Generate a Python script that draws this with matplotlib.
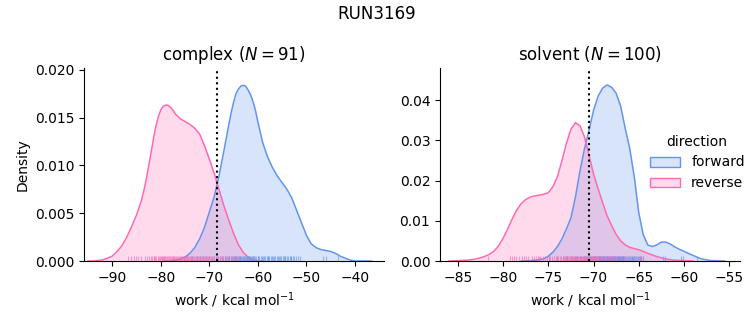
import matplotlib.pyplot as plt
from matplotlib.patches import Patch

FWD = "#6495ED"
REV = "#FF69B4"

# --- complex: densidad ---
cx_rev = [-95, -94, -92, -91, -90, -89, -88, -87, -86, -85,
          -84, -83.5, -83, -82.5, -82, -81.5, -81, -80.5, -80, -79.5,
          -79, -78.5, -78, -77.5, -77, -76, -75, -74, -73, -72,
          -71, -70, -69, -68, -67, -66, -65, -64, -63, -62,
          -61, -60, -59]
cy_rev = [0.0, 0.0, 0.0001, 0.0003, 0.0005, 0.0010, 0.0016, 0.0025, 0.0036, 0.0048,
          0.0063, 0.0073, 0.0085, 0.0099, 0.0113, 0.0128, 0.0141, 0.0151, 0.0158, 0.0162,
          0.0163, 0.0163, 0.0161, 0.0158, 0.0154, 0.0149, 0.0146, 0.0143, 0.0139, 0.0133,
          0.0121, 0.0107, 0.0092, 0.0075, 0.0058, 0.0043, 0.0029, 0.0017, 0.0009, 0.0004,
          0.0001, 0.0, 0.0]

cx_fwd = [-79, -78, -76, -75, -74, -73, -72, -71, -70, -69,
          -68, -67, -66, -65.5, -65, -64.5, -64, -63.5, -63, -62.5,
          -62, -61.5, -61, -60.5, -60, -59, -58, -57, -56, -55,
          -54, -53, -52, -51, -50, -49, -48, -47, -46, -45,
          -44, -43, -42, -41, -40, -38, -36.5]
cy_fwd = [0.0, 0.0, 0.0002, 0.0004, 0.0008, 0.0014, 0.0023, 0.0035, 0.0051, 0.0067,
          0.0089, 0.0115, 0.0142, 0.0155, 0.0166, 0.0175, 0.0180, 0.0183, 0.0184, 0.0183,
          0.0179, 0.0174, 0.0167, 0.0158, 0.0146, 0.0124, 0.0109, 0.0098, 0.0089, 0.0082,
          0.0075, 0.0066, 0.0053, 0.0040, 0.0027, 0.0018, 0.0014, 0.0012, 0.0011, 0.0010,
          0.0008, 0.0005, 0.0003, 0.0001, 0.0, 0.0, 0.0]

# --- solvent ---
sx_rev = [-86, -85, -84, -83, -82.5, -82, -81.5, -81, -80.5, -80, -79.5, -79, -78.5,
          -78, -77.5, -77, -76.5, -76, -75.5, -75, -74.5, -74, -73.5, -73, -72.5,
          -72, -71.5, -71, -70.5, -70, -69.5, -69, -68.5, -68, -67.5, -67, -66.5,
          -66, -65.5, -65, -64.5, -64, -63, -62, -61, -60, -59]
sy_rev = [0.0, 0.0001, 0.0002, 0.0005, 0.0008, 0.0012, 0.0017, 0.0025, 0.0038, 0.0057,
          0.0080, 0.0105, 0.0127, 0.0143, 0.0153, 0.0159, 0.0162, 0.0164, 0.0166,
          0.0170, 0.0185, 0.0210, 0.0250, 0.0293, 0.0328, 0.0344, 0.0336, 0.0308,
          0.0262, 0.0216, 0.0180, 0.0145, 0.0112, 0.0088, 0.0066, 0.0050, 0.0040,
          0.0034, 0.0031, 0.0028, 0.0024, 0.0019, 0.0011, 0.0005, 0.0002, 0.0001, 0.0]

sx_fwd = [-78, -77, -76, -75.5, -75, -74.5, -74, -73.5, -73, -72.5, -72, -71.5, -71,
          -70.5, -70, -69.5, -69, -68.5, -68, -67.5, -67, -66.5, -66, -65.5, -65,
          -64.5, -64, -63.5, -63, -62.5, -62, -61.5, -61, -60.5, -60, -59.5, -59,
          -58.5, -58, -57, -56, -55.5]
sy_fwd = [0.0, 0.0001, 0.0003, 0.0006, 0.0012, 0.0022, 0.0036, 0.0055, 0.0080, 0.0108,
          0.0160, 0.0225, 0.0280, 0.0326, 0.0375, 0.0410, 0.0430, 0.0438, 0.0432,
          0.0417, 0.0385, 0.0330, 0.0280, 0.0210, 0.0120, 0.0065, 0.0040, 0.0036,
          0.0040, 0.0047, 0.0047, 0.0042, 0.0035, 0.0029, 0.0024, 0.0019, 0.0014,
          0.0009, 0.0005, 0.0001, 0.0, 0.0]

# --- rug (muestras, aproximadas) ---
rug_c_rev = [-86.8, -86.2, -85.6, -85.1, -84.6, -84.0, -83.3, -82.8, -82.4, -82.0,
             -81.7, -81.4, -81.1, -80.9, -80.6, -80.4, -80.2, -80.0, -79.8, -79.6,
             -79.4, -79.3, -79.1, -78.9, -78.7, -78.5, -78.3, -78.1, -77.9, -77.7,
             -77.5, -77.3, -77.1, -76.9, -76.7, -76.5, -76.3, -76.1, -75.9, -75.7,
             -75.5, -75.3, -75.1, -74.9, -74.7, -74.5, -74.3, -74.1, -73.9, -73.7,
             -73.5, -73.3, -73.1, -72.9, -72.7, -72.5, -72.3, -72.1, -71.9, -71.7,
             -71.5, -71.3, -71.1, -70.9, -70.7, -70.5, -70.3, -70.1, -69.9, -69.6,
             -69.3, -69.0, -68.7, -68.4, -68.1, -67.8, -67.5, -67.2, -66.8, -66.4,
             -66.0, -65.6, -65.2, -64.8, -64.4, -63.9, -81.3, -79.7, -77.4, -75.2,
             -73.8]
rug_c_fwd = [-75.8, -74.6, -73.5, -72.6, -71.9, -71.2, -70.6, -70.0, -69.5, -69.0,
             -68.6, -68.2, -67.8, -67.4, -67.1, -66.8, -66.5, -66.2, -65.9, -65.6,
             -65.3, -65.1, -64.8, -64.6, -64.4, -64.2, -64.0, -63.8, -63.6, -63.4,
             -63.2, -63.0, -62.8, -62.6, -62.4, -62.2, -62.0, -61.8, -61.6, -61.4,
             -61.2, -61.0, -60.8, -60.6, -60.3, -60.0, -59.7, -59.4, -59.1, -58.8,
             -58.5, -58.2, -57.9, -57.6, -57.3, -57.0, -56.7, -56.4, -56.1, -55.8,
             -55.5, -55.2, -54.9, -54.6, -54.3, -54.0, -53.7, -53.4, -53.1, -52.8,
             -52.5, -52.2, -51.8, -51.4, -46.6, -45.9, -43.4, -66.0, -64.9, -63.7,
             -62.9, -61.9, -60.9, -59.9, -58.9, -57.8, -56.8, -55.7, -54.5, -53.2,
             -62.3]
rug_s_rev = [-81.7, -79.3, -79.0, -78.6, -78.2, -77.7, -77.3, -76.8, -76.4, -76.0,
             -75.6, -75.2, -74.8, -74.4, -74.0, -73.7, -73.4, -73.1, -72.9, -72.7,
             -72.5, -72.3, -72.1, -71.9, -71.7, -71.5, -71.3, -71.1, -70.9, -70.7,
             -70.5, -70.3, -70.1, -69.9, -69.7, -69.5, -69.3, -69.1, -68.9, -68.6,
             -68.3, -68.0, -67.7, -67.4, -67.0, -66.6, -66.1, -65.5, -64.9, -64.5,
             -78.8, -77.5, -76.2, -74.6, -73.9, -73.3, -72.8, -72.4, -72.0, -71.6,
             -71.2, -70.8, -70.4, -70.0, -69.6, -69.2, -68.8, -68.2, -67.5, -66.8,
             -73.0, -72.6, -72.2, -71.8, -71.4, -71.0, -70.6, -70.2, -69.8, -69.4,
             -75.9, -74.2, -73.6, -72.9, -72.35, -71.85, -71.35, -70.85, -70.35, -69.85,
             -77.9, -76.6, -75.4, -74.9, -73.2, -72.15, -71.05, -69.05, -68.45, -67.9]
rug_s_fwd = [-74.9, -74.0, -73.4, -72.9, -72.5, -72.1, -71.8, -71.5, -71.2, -70.9,
             -70.7, -70.5, -70.3, -70.1, -69.9, -69.7, -69.55, -69.4, -69.25, -69.1,
             -68.95, -68.8, -68.65, -68.5, -68.35, -68.2, -68.05, -67.9, -67.75, -67.6,
             -67.45, -67.3, -67.15, -67.0, -66.85, -66.7, -66.5, -66.3, -66.1, -65.9,
             -65.7, -65.5, -65.3, -65.1, -64.9, -64.7, -64.5, -62.3, -62.1, -60.3,
             -60.1, -58.6, -71.35, -71.05, -70.8, -70.6, -70.4, -70.2, -70.0, -69.8,
             -69.6, -69.45, -69.3, -69.15, -69.0, -68.85, -68.7, -68.55, -68.4, -68.25,
             -68.1, -67.95, -67.8, -67.65, -67.5, -67.35, -67.2, -67.05, -66.9, -66.75,
             -66.6, -66.4, -66.2, -66.0, -65.8, -65.6, -65.4, -65.2, -65.0, -64.8,
             -69.5, -69.2, -68.9, -68.6, -68.3, -68.0, -67.7, -67.4, -67.1, -66.8]

paneles = [
    ("complex", 91, cx_fwd, cy_fwd, cx_rev, cy_rev, rug_c_fwd, rug_c_rev, -68.4,
     (-95.8, -34.0), (0, 0.0202), [-90, -80, -70, -60, -50, -40],
     [0.0, 0.005, 0.010, 0.015, 0.020]),
    ("solvent", 100, sx_fwd, sy_fwd, sx_rev, sy_rev, rug_s_fwd, rug_s_rev, -70.5,
     (-87.0, -53.8), (0, 0.048), [-85, -80, -75, -70, -65, -60, -55],
     [0.0, 0.01, 0.02, 0.03, 0.04]),
]

fig = plt.figure(figsize=(7.53, 3.25), dpi=100)
posiciones = [[0.1116, 0.1969, 0.3984, 0.5938], [0.5843, 0.1969, 0.3984, 0.5938]]

for i, (fase, n, xf, yf, xr, yr, rf, rr, linea, xlim, ylim, xt, yt) in enumerate(paneles):
    ax = fig.add_axes(posiciones[i])
    ax.fill_between(xf, yf, color=FWD, alpha=0.25, linewidth=0)
    ax.plot(xf, yf, color=FWD, linewidth=1.1)
    ax.fill_between(xr, yr, color=REV, alpha=0.25, linewidth=0)
    ax.plot(xr, yr, color=REV, linewidth=1.1)
    trans = ax.get_xaxis_transform()
    ax.vlines(rf, 0, 0.025, transform=trans, color=FWD, alpha=0.6, linewidth=0.8)
    ax.vlines(rr, 0, 0.025, transform=trans, color=REV, alpha=0.6, linewidth=0.8)
    ax.axvline(linea, color="black", linestyle=":", linewidth=1.5)
    ax.set_xlim(*xlim)
    ax.set_ylim(*ylim)
    ax.set_xticks(xt)
    ax.set_yticks(yt)
    if i == 0:
        ax.set_yticklabels(["0.000", "0.005", "0.010", "0.015", "0.020"])
        ax.set_ylabel("Density")
    else:
        ax.set_yticklabels(["0.00", "0.01", "0.02", "0.03", "0.04"])
    ax.set_xlabel("work / kcal mol$^{-1}$")
    ax.set_title(f"{fase} ($N = {n}$)", fontsize=12)
    ax.spines["top"].set_visible(False)
    ax.spines["right"].set_visible(False)

handles = [Patch(facecolor=(0.392, 0.584, 0.929, 0.25), edgecolor=FWD),
           Patch(facecolor=(1.0, 0.412, 0.706, 0.25), edgecolor=REV)]
fig.legend(handles, ["forward", "reverse"], title="direction", frameon=False,
           loc="center left", bbox_to_anchor=(0.846, 0.50), fontsize=10,
           title_fontsize=10, handlelength=2.2)

fig.suptitle("RUN3169", fontsize=12, y=0.985)
fig.savefig("out.png", dpi=100)
